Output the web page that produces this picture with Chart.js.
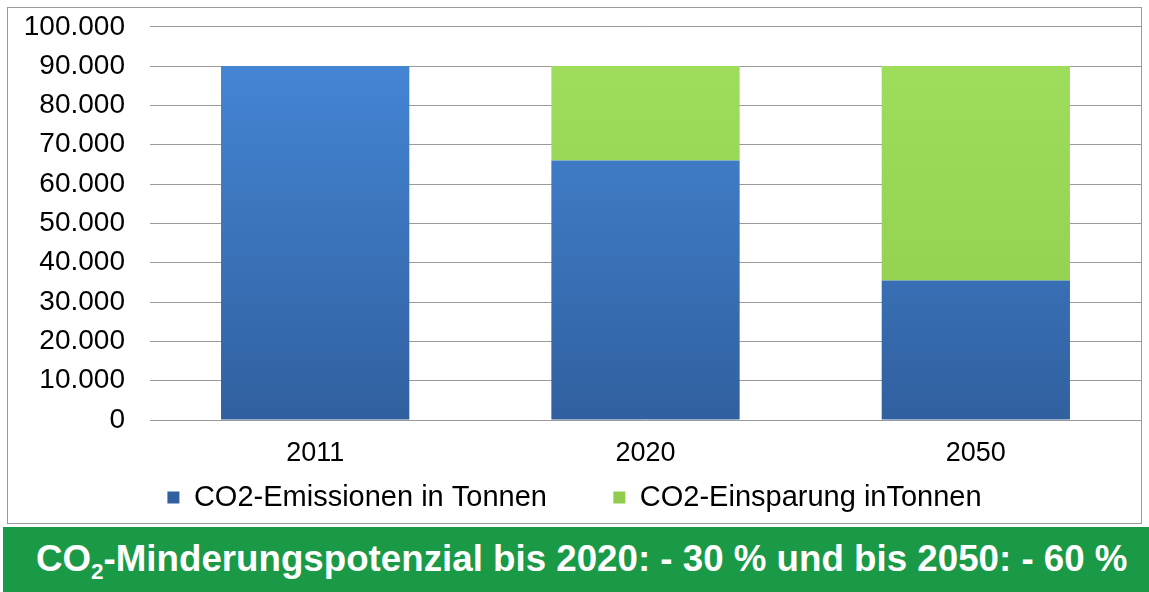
<!DOCTYPE html>
<html>
<head>
<meta charset="utf-8">
<script src="https://cdn.jsdelivr.net/npm/chart.js@4.4.0/dist/chart.umd.min.js"></script>
<style>
    html, body { margin: 0; padding: 0; background: #fff; }
    body { width: 1149px; height: 592px; position: relative; overflow: hidden; font-family: 'Liberation Sans', Arial, sans-serif; }
    #box { position: absolute; left: 7px; top: 7px; width: 1133px; height: 515px; border: 1px solid #9a9a9a; overflow: hidden; }
    #co2Chart { position: absolute; left: 0; top: -23px; }
    #banner { position: absolute; left: 3px; top: 527px; width: 1146px; height: 65px; background: #1a9a46; }
    #bannerText { position: absolute; left: 33px; top: 12px; color: #fff; font-weight: bold; font-size: 36px; white-space: nowrap; transform-origin: left top; line-height: 40px; }
    #bannerText sub { font-size: 22px; vertical-align: -8px; line-height: 0; }
</style>
</head>
<body>
<div id="box"><canvas id="co2Chart"></canvas></div>
<div id="banner"><span id="bannerText">CO<sub>2</sub>-Minderungspotenzial bis 2020: - 30 % und bis 2050: - 60 %</span></div>

<script>
    //  Chart data
    var years       = ['2011', '2020', '2050'];
    var emissionen  = [90000, 66000, 35500];
    var einsparung  = [0, 24000, 54500];
    var seriesNames = ['CO2-Emissionen in Tonnen', 'CO2-Einsparung inTonnen'];

    //  German thousand separator
    function fmt(v) {
        return String(v).replace(/\B(?=(\d{3})+(?!\d))/g, '.');
    }

    //  Vertical gradient over the plot area
    function grad(topCol, botCol) {
        return function(context) {
            var chart = context.chart;
            var area = chart.chartArea;
            if (!area) return topCol;
            var g = chart.ctx.createLinearGradient(0, area.top, 0, area.bottom);
            g.addColorStop(0, topCol);
            g.addColorStop(1, botCol);
            return g;
        };
    }

    var ctx = document.getElementById('co2Chart');
    ctx.width = 1133; ctx.height = 538;

    var fontFam = "'Liberation Sans', Arial";
    var defaultLabels = Chart.defaults.plugins.legend.labels.generateLabels;

    new Chart(ctx, {
        type: 'bar',
        data: {
            labels: years,
            datasets: [{
                label: seriesNames[0],
                data: emissionen,
                backgroundColor: grad('#4689da', '#31609f'),
                borderWidth: 0
            }, {
                label: seriesNames[1],
                data: einsparung,
                backgroundColor: grad('#a0de5e', '#8fcc4c'),
                borderWidth: 0
            }]
        },
        options: {
            responsive: false,
            animation: false,
            datasets: { bar: { categoryPercentage: 1, barPercentage: 0.57 } },
            layout: { padding: { top: 0, right: 0, left: 0, bottom: 1 } },
            scales: {
                x: {
                    stacked: true,
                    afterFit: function(s) { s.height = 53; },
                    grid: { display: false, drawTicks: false },
                    border: { display: false },
                    ticks: { color: '#000', padding: 17, font: { family: fontFam, size: 27 } }
                },
                y: {
                    stacked: true,
                    min: 0,
                    max: 100000,
                    afterFit: function(s) { s.width = 142; },
                    border: { display: false },
                    grid: { color: '#9a9a9a', lineWidth: 1, drawTicks: false },
                    ticks: {
                        stepSize: 10000,
                        autoSkip: false,
                        color: '#000',
                        padding: 25,
                        font: { family: fontFam, size: 28 },
                        callback: function(v) { return fmt(v); }
                    }
                }
            },
            plugins: {
                legend: {
                    position: 'bottom',
                    labels: {
                        boxWidth: 12,
                        boxHeight: 12,
                        padding: 10,
                        color: '#000',
                        font: { family: fontFam, size: 29 },
                        generateLabels: function(chart) {
                            var items = defaultLabels(chart);
                            //  wider gap after the first entry
                            items[0].text = items[0].text + '       ';
                            return items;
                        }
                    }
                },
                tooltip: { enabled: false }
            }
        }
    });

    //  Fit banner text to the banner width
    var bt = document.getElementById('bannerText');
    bt.style.transform = 'scaleX(' + (1092 / bt.offsetWidth) + ')';
</script>
</body>
</html>
